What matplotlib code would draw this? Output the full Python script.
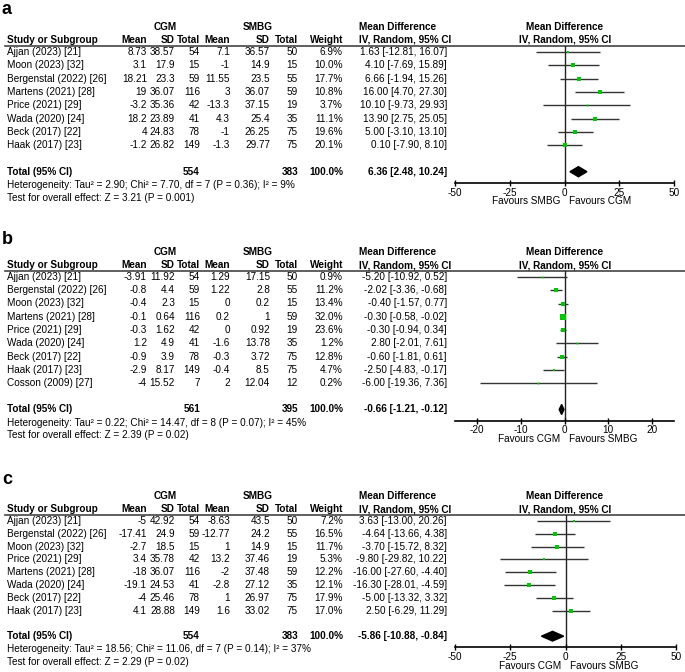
"""Forest plots: CGM vs SMBG (three outcomes)"""
import matplotlib.pyplot as plt
import numpy as np
from matplotlib.patches import Polygon

plt.rcParams["font.family"] = ["Liberation Sans", "DejaVu Sans"]
FS = 7.2
GREEN = "#00c800"

# ---- panel a ----
studies_a = ["Ajjan (2023) [21]", "Moon (2023) [32]", "Bergenstal (2022) [26]", "Martens (2021) [28]",
             "Price (2021) [29]", "Wada (2020) [24]", "Beck (2017) [22]", "Haak (2017) [23]"]
cgm_mean_a = [8.73, 3.1, 18.21, 19, -3.2, 18.2, 4, -1.2]
cgm_sd_a = [38.57, 17.9, 23.3, 36.07, 35.36, 23.89, 24.83, 26.82]
cgm_n_a = [54, 15, 59, 116, 42, 41, 78, 149]
smbg_mean_a = [7.1, -1, 11.55, 3, -13.3, 4.3, -1, -1.3]
smbg_sd_a = [36.57, 14.9, 23.5, 36.07, 37.15, 25.4, 26.25, 29.77]
smbg_n_a = [50, 15, 55, 59, 19, 35, 75, 75]
weight_a = [6.9, 10.0, 17.7, 10.8, 3.7, 11.1, 19.6, 20.1]
md_a = [1.63, 4.10, 6.66, 16.00, 10.10, 13.90, 5.00, 0.10]
lo_a = [-12.81, -7.69, -1.94, 4.70, -9.73, 2.75, -3.10, -7.90]
hi_a = [16.07, 15.89, 15.26, 27.30, 29.93, 25.05, 13.10, 8.10]
total_a = [554, 383, 6.36, 2.48, 10.24]
het_a = "Heterogeneity: Tau² = 2.90; Chi² = 7.70, df = 7 (P = 0.36); I² = 9%"
test_a = "Test for overall effect: Z = 3.21 (P = 0.001)"

# ---- panel b ----
studies_b = ["Ajjan (2023) [21]", "Bergenstal (2022) [26]", "Moon (2023) [32]", "Martens (2021) [28]",
             "Price (2021) [29]", "Wada (2020) [24]", "Beck (2017) [22]", "Haak (2017) [23]",
             "Cosson (2009) [27]"]
cgm_mean_b = [-3.91, -0.8, -0.4, -0.1, -0.3, 1.2, -0.9, -2.9, -4]
cgm_sd_b = [11.92, 4.4, 2.3, 0.64, 1.62, 4.9, 3.9, 8.17, 15.52]
cgm_n_b = [54, 59, 15, 116, 42, 41, 78, 149, 7]
smbg_mean_b = [1.29, 1.22, 0, 0.2, 0, -1.6, -0.3, -0.4, 2]
smbg_sd_b = [17.15, 2.8, 0.2, 1, 0.92, 13.78, 3.72, 8.5, 12.04]
smbg_n_b = [50, 55, 15, 59, 19, 35, 75, 75, 12]
weight_b = [0.9, 11.2, 13.4, 32.0, 23.6, 1.2, 12.8, 4.7, 0.2]
md_b = [-5.20, -2.02, -0.40, -0.30, -0.30, 2.80, -0.60, -2.50, -6.00]
lo_b = [-10.92, -3.36, -1.57, -0.58, -0.94, -2.01, -1.81, -4.83, -19.36]
hi_b = [0.52, -0.68, 0.77, -0.02, 0.34, 7.61, 0.61, -0.17, 7.36]
total_b = [561, 395, -0.66, -1.21, -0.12]
het_b = "Heterogeneity: Tau² = 0.22; Chi² = 14.47, df = 8 (P = 0.07); I² = 45%"
test_b = "Test for overall effect: Z = 2.39 (P = 0.02)"

# ---- panel c ----
studies_c = ["Ajjan (2023) [21]", "Bergenstal (2022) [26]", "Moon (2023) [32]", "Price (2021) [29]",
             "Martens (2021) [28]", "Wada (2020) [24]", "Beck (2017) [22]", "Haak (2017) [23]"]
cgm_mean_c = [-5, -17.41, -2.7, 3.4, -18, -19.1, -4, 4.1]
cgm_sd_c = [42.92, 24.9, 18.5, 35.78, 36.07, 24.53, 25.46, 28.88]
cgm_n_c = [54, 59, 15, 42, 116, 41, 78, 149]
smbg_mean_c = [-8.63, -12.77, 1, 13.2, -2, -2.8, 1, 1.6]
smbg_sd_c = [43.5, 24.2, 14.9, 37.46, 37.48, 27.12, 26.97, 33.02]
smbg_n_c = [50, 55, 15, 19, 59, 35, 75, 75]
weight_c = [7.2, 16.5, 11.7, 5.3, 12.2, 12.1, 17.9, 17.0]
md_c = [3.63, -4.64, -3.70, -9.80, -16.00, -16.30, -5.00, 2.50]
lo_c = [-13.00, -13.66, -15.72, -29.82, -27.60, -28.01, -13.32, -6.29]
hi_c = [20.26, 4.38, 8.32, 10.22, -4.40, -4.59, 3.32, 11.29]
total_c = [554, 383, -5.86, -10.88, -0.84]
het_c = "Heterogeneity: Tau² = 18.56; Chi² = 11.06, df = 7 (P = 0.14); I² = 37%"
test_c = "Test for overall effect: Z = 2.29 (P = 0.02)"

W, H = 685, 672
fig = plt.figure(figsize=(W / 100, H / 100), dpi=100)
page = fig.add_axes([0, 0, 1, 1])
page.set_xlim(0, W)
page.set_ylim(H, 0)
page.axis("off")

# right edges of the numeric columns (pixels)
COLS = [147, 175, 200, 230, 270, 298, 343]


def txt(x, y, s, ha="left", bold=False, size=FS):
    page.text(x, y, s, ha=ha, va="center", fontsize=size,
              fontweight="bold" if bold else "normal")


def panel(label, label_y, row0, dy, studies, cols, weight, md, lo, hi, total,
          het, test, xlim, ticks, fav_left, fav_right, x1):
    n = len(studies)
    line_y = row0 - 6.5
    total_y = row0 + (n + 1) * dy
    axis_y = total_y + 11

    txt(2, label_y, label, bold=True, size=13)
    # headers
    txt(165, row0 - 25, "CGM", ha="center", bold=True)
    txt(258, row0 - 25, "SMBG", ha="center", bold=True)
    txt(359, row0 - 25, "Mean Difference", bold=True)
    txt(565, row0 - 25, "Mean Difference", ha="center", bold=True)
    txt(7, row0 - 12, "Study or Subgroup", bold=True)
    for x, s in zip(COLS, ["Mean", "SD", "Total", "Mean", "SD", "Total", "Weight"]):
        txt(x, row0 - 12, s, ha="right", bold=True)
    txt(359, row0 - 12, "IV, Random, 95% CI", bold=True)
    txt(565, row0 - 12, "IV, Random, 95% CI", ha="center", bold=True)
    page.plot([5, W], [line_y, line_y], color="#444444", lw=1.2)

    # study rows
    for i in range(n):
        y = row0 + i * dy
        txt(7, y, studies[i])
        for x, col in zip(COLS[:6], cols):
            txt(x, y, f"{col[i]:g}", ha="right")
        txt(COLS[6], y, f"{weight[i]:.1f}%", ha="right")
        txt(447, y, f"{md[i]:.2f} [{lo[i]:.2f}, {hi[i]:.2f}]", ha="right")

    # totals
    txt(7, total_y, "Total (95% CI)", bold=True)
    txt(COLS[2], total_y, f"{total[0]}", ha="right", bold=True)
    txt(COLS[5], total_y, f"{total[1]}", ha="right", bold=True)
    txt(COLS[6], total_y, "100.0%", ha="right", bold=True)
    txt(447, total_y, f"{total[2]:.2f} [{total[3]:.2f}, {total[4]:.2f}]", ha="right", bold=True)
    txt(7, total_y + 13, het)
    txt(7, total_y + 26, test)

    # forest plot
    x0 = 455
    ax = fig.add_axes([x0 / W, 1 - axis_y / H, (x1 - x0) / W, (axis_y - line_y) / H])
    ax.set_xlim(*xlim)
    ax.set_ylim((axis_y - row0) / dy, (line_y - row0) / dy)
    ax.patch.set_alpha(0)
    for s in ["top", "left", "right"]:
        ax.spines[s].set_visible(False)
    ax.spines["bottom"].set_linewidth(1.2)
    ax.set_yticks([])
    ax.set_xticks(ticks)
    ax.set_xticklabels([f"{t:g}" for t in ticks])
    ax.tick_params(axis="x", direction="inout", length=5, width=1, labelsize=FS, pad=1)
    ax.axvline(0, color="#222222", lw=1, zorder=1)

    rows = np.arange(n)
    ax.hlines(rows, lo, hi, color="#333333", lw=1, zorder=2)
    for i in range(n):
        ms = max(1.3, 0.7 * np.sqrt(weight[i]))
        ax.plot(md[i], rows[i], marker="s", ms=ms, color=GREEN, mew=0, zorder=3)

    t_row = n + 1
    h = 0.38
    ax.add_patch(Polygon([[total[3], t_row], [total[2], t_row - h], [total[4], t_row],
                          [total[2], t_row + h]], closed=True, color="black", zorder=4))

    ax.annotate(fav_left, xy=(0, 0), xycoords=("data", "axes fraction"), xytext=(-3, -13.5),
                textcoords="offset points", ha="right", va="center", fontsize=FS)
    ax.annotate(fav_right, xy=(0, 0), xycoords=("data", "axes fraction"), xytext=(3, -13.5),
                textcoords="offset points", ha="left", va="center", fontsize=FS)


panel("a", 10, 52, 13.3, studies_a,
      [cgm_mean_a, cgm_sd_a, cgm_n_a, smbg_mean_a, smbg_sd_a, smbg_n_a],
      weight_a, md_a, lo_a, hi_a, total_a, het_a, test_a,
      (-50, 50), [-50, -25, 0, 25, 50], "Favours SMBG", "Favours CGM", 674)

panel("b", 239, 277, 13.25, studies_b,
      [cgm_mean_b, cgm_sd_b, cgm_n_b, smbg_mean_b, smbg_sd_b, smbg_n_b],
      weight_b, md_b, lo_b, hi_b, total_b, het_b, test_b,
      (-25, 25), [-20, -10, 0, 10, 20], "Favours CGM", "Favours SMBG", 674)

panel("c", 480, 521, 12.8, studies_c,
      [cgm_mean_c, cgm_sd_c, cgm_n_c, smbg_mean_c, smbg_sd_c, smbg_n_c],
      weight_c, md_c, lo_c, hi_c, total_c, het_c, test_c,
      (-50, 50), [-50, -25, 0, 25, 50], "Favours CGM", "Favours SMBG", 676)

fig.savefig("out.png", dpi=100)
